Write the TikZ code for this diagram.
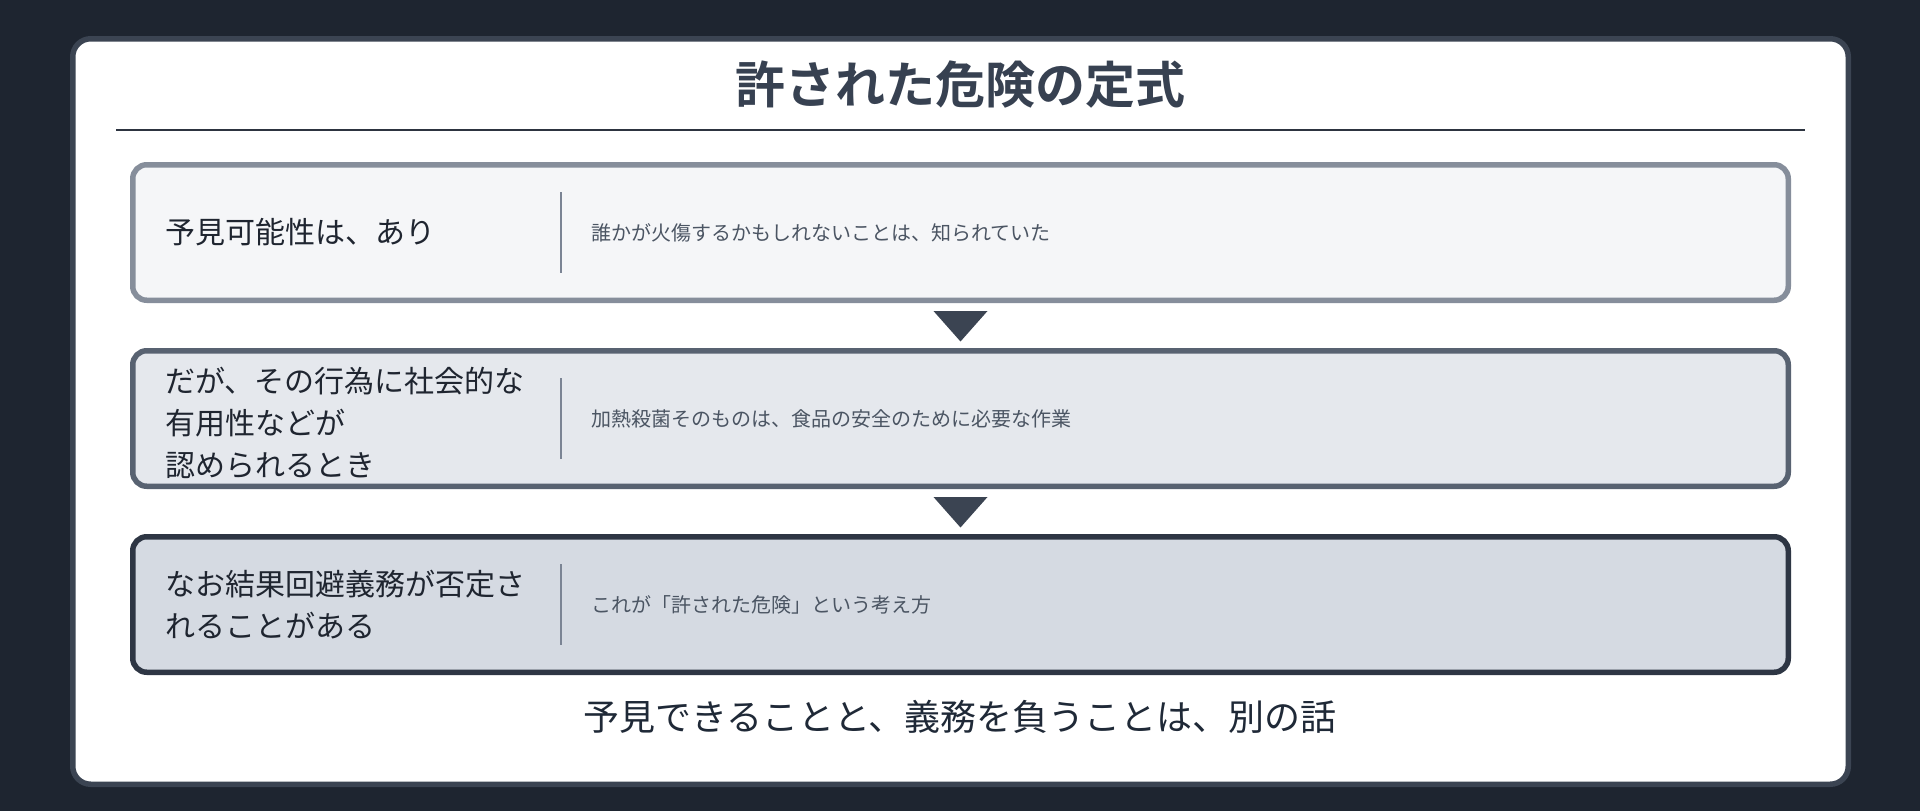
\documentclass[tikz,border=0pt]{standalone}
\usepackage{fontspec}
\setmainfont{Noto Sans CJK JP}[BoldFont={* Bold}]
\usetikzlibrary{calc}
\definecolor{bgc}{HTML}{1E2530}
\definecolor{cardborder}{HTML}{3B4452}
\definecolor{rulec}{HTML}{2D3440}
\definecolor{fillA}{HTML}{F5F6F8}
\definecolor{lineA}{HTML}{868E9B}
\definecolor{fillB}{HTML}{E5E8ED}
\definecolor{lineB}{HTML}{586271}
\definecolor{fillC}{HTML}{D5DAE2}
\definecolor{lineC}{HTML}{2E3644}
\definecolor{triC}{HTML}{3B4452}
\definecolor{divc}{HTML}{7B8494}
\definecolor{titlec}{HTML}{374151}
\definecolor{maintext}{HTML}{1F2530}
\definecolor{subtext}{HTML}{4B5563}
\definecolor{foottext}{HTML}{1F2937}
\tikzset{
  stepbox/.style={rectangle, rounded corners=14pt, line width=5.5pt,
    minimum width=1655.5pt, minimum height=135.5pt, inner sep=0pt},
  boxA/.style={stepbox, draw=lineA, fill=fillA},
  boxB/.style={stepbox, draw=lineB, fill=fillB},
  boxC/.style={stepbox, draw=lineC, fill=fillC},
  lefttext/.style={anchor=west, inner sep=0pt, align=left, text=maintext,
    font=\fontsize{30pt}{42pt}\selectfont},
  righttext/.style={anchor=west, inner sep=0pt, text=subtext,
    font=\fontsize{20pt}{28pt}\selectfont},
  divline/.style={draw=divc, line width=2.7pt},
  tri/.style={fill=triC},
}
\begin{document}
\begin{tikzpicture}[x=1pt,y=-1pt]
\useasboundingbox[fill=bgc] (0,0) rectangle (1920,811);
% card
\draw[fill=white, draw=cardborder, line width=5.5pt, rounded corners=18pt]
  (72.75,38.75) rectangle (1848.25,784.25);
% title
\node[inner sep=0pt, text=titlec, font=\fontsize{50pt}{60pt}\selectfont\bfseries]
  (title) at (960,85) {許された危険の定式};
\coordinate (ruleL) at (116,130);
\coordinate (ruleR) at (1805,130);
\draw[rulec, line width=2.7pt] (ruleL) -- (ruleR);
% boxes
\node[boxA] (b1) at (960.5,232.5) {};
\node[boxB] (b2) at (960.5,418.5) {};
\node[boxC] (b3) at (960.5,604.5) {};
% left texts
\node[lefttext] (l1) at ($(b1.west)+(35,0)$) {予見可能性は、あり};
\node[lefttext] (l2) at ($(b2.west)+(35,4)$) {だが、その行為に社会的な\\有用性などが\\認められるとき};
\node[lefttext] (l3) at ($(b3.west)+(35,0)$) {なお結果回避義務が否定さ\\れることがある};
% dividers
\foreach \b in {b1,b2,b3}{
  \draw[divline] ($(\b.west)+(431,-40.5)$) -- ($(\b.west)+(431,40.5)$);
}
% right texts
\node[righttext] (r1) at ($(b1.west)+(461,0)$) {誰かが火傷するかもしれないことは、知られていた};
\node[righttext] (r2) at ($(b2.west)+(461,0)$) {加熱殺菌そのものは、食品の安全のために必要な作業};
\node[righttext] (r3) at ($(b3.west)+(461,0)$) {これが「許された危険」という考え方};
% triangles
\fill[tri] ($(b1.south)+(-27,8)$) -- ($(b1.south)+(27,8)$) -- ($(b1.south)+(0,38.5)$) -- cycle;
\fill[tri] ($(b2.south)+(-27,8)$) -- ($(b2.south)+(27,8)$) -- ($(b2.south)+(0,38.5)$) -- cycle;
% footer
\node[inner sep=0pt, text=foottext, font=\fontsize{36pt}{44pt}\selectfont]
  (foot) at (960,716.5) {予見できることと、義務を負うことは、別の話};
\end{tikzpicture}
\end{document}
